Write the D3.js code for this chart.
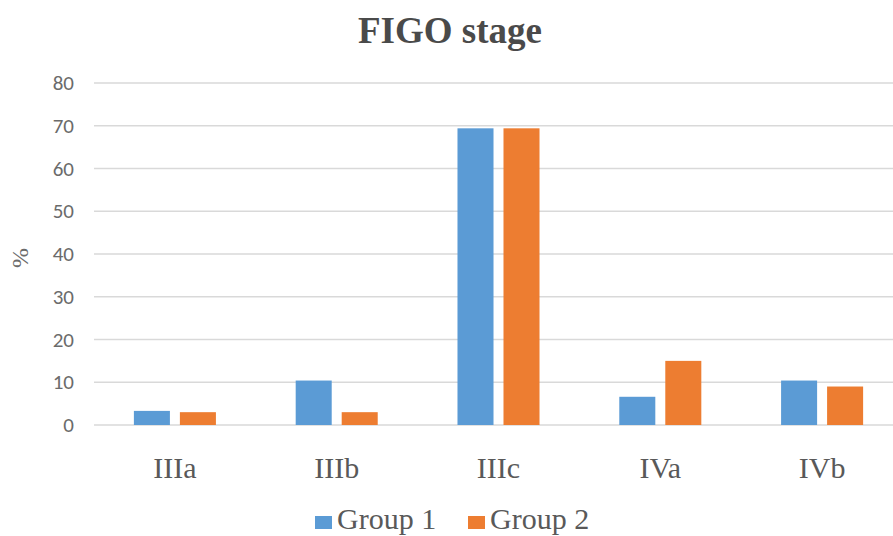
<!DOCTYPE html>
<html><head><meta charset="utf-8">
<script src="https://cdn.jsdelivr.net/npm/d3@7"></script>
<style>body{margin:0;background:#fff}svg{display:block}</style>
</head><body>
<svg id="chart" width="893" height="536"></svg>
<script>
const categories = ["IIIa", "IIIb", "IIIc", "IVa", "IVb"];
const seriesNames = ["Group 1", "Group 2"];
const group1 = [3.3, 10.4, 69.4, 6.6, 10.4];
const group2 = [3.0, 3.0, 69.4, 15.0, 9.0];
const yTicks = [0, 10, 20, 30, 40, 50, 60, 70, 80];
const colors = ["#5B9BD5", "#ED7D31"];

const series = [group1, group2];
const svg = d3.select("#chart");
const W = 893, H = 536;
const x0 = d3.scaleBand().domain(categories).range([94, 903]).paddingInner(0).paddingOuter(0);
const x1 = d3.scaleBand().domain(seriesNames).range([0, x0.bandwidth()]).paddingInner(0.217).paddingOuter(0.867);
const y = d3.scaleLinear().domain([0, 80]).range([425, 83]);

// gridlines
svg.append("g").selectAll("line").data(yTicks).join("line")
  .attr("x1", 94).attr("x2", W).attr("y1", d => y(d)).attr("y2", d => y(d))
  .attr("stroke", "#d9d9d9").attr("stroke-width", 1.3);

// y axis labels
const yAxis = d3.axisLeft(y).tickValues(yTicks).tickSize(0).tickPadding(10);
const ga = svg.append("g").attr("transform", "translate(84,0)").call(yAxis);
ga.select(".domain").remove();
ga.selectAll("text").attr("font-family", "Carlito, 'Open Sans', 'Liberation Sans', sans-serif")
  .attr("font-size", 21).attr("fill", "#6b6b6b");

// bars
categories.forEach((c, i) => {
  series.forEach((s, j) => {
    svg.append("rect")
      .attr("x", x0(c) + x1(seriesNames[j]))
      .attr("y", y(s[i]))
      .attr("width", x1.bandwidth())
      .attr("height", y(0) - y(s[i]))
      .attr("fill", colors[j]);
  });
});

// x axis labels
const xAxis = d3.axisBottom(x0).tickSize(0).tickPadding(0);
const gx = svg.append("g").attr("transform", "translate(0,457)").call(xAxis);
gx.select(".domain").remove();
gx.selectAll("text").attr("font-family", "'Liberation Serif', serif").attr("font-size", 30)
  .attr("fill", "#595959").attr("dy", "0.71em");

// title
svg.append("text").attr("x", 450).attr("y", 43).attr("text-anchor", "middle")
  .attr("font-family", "'Liberation Serif', serif").attr("font-weight", "bold")
  .attr("font-size", 37).attr("fill", "#4a4a4a").text("FIGO stage");

// y title
svg.append("text").attr("transform", "translate(28,258) rotate(-90)").attr("text-anchor", "middle")
  .attr("font-family", "'Liberation Serif', serif").attr("font-size", 24)
  .attr("fill", "#6b6b6b").text("%");

// legend
const legX = [315, 468];
seriesNames.forEach((n, j) => {
  svg.append("rect").attr("x", legX[j]).attr("y", 516).attr("width", 17).attr("height", 13).attr("fill", colors[j]);
  svg.append("text").attr("x", legX[j] + 22).attr("y", 529)
    .attr("font-family", "'Liberation Serif', serif").attr("font-size", 30)
    .attr("fill", "#595959").text(n);
});
</script>
</body></html>
